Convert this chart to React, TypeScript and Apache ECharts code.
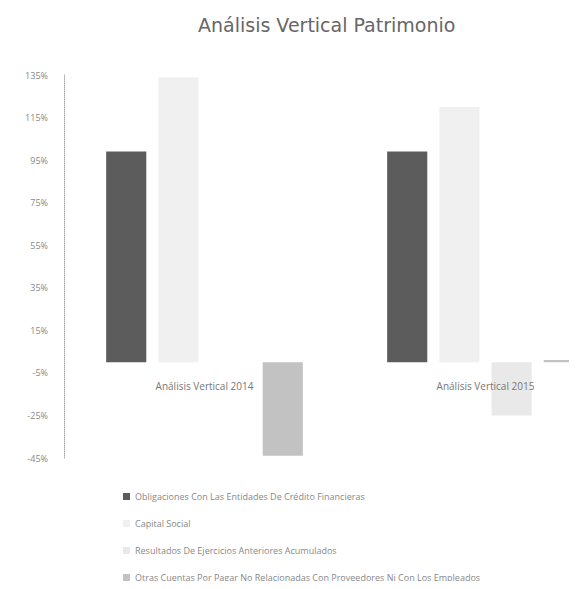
import React, { useEffect, useRef } from "react";
import * as echarts from "echarts";

const categories = ["Análisis Vertical 2014", "Análisis Vertical 2015"];
const seriesNames = [
  "Obligaciones Con Las Entidades De Crédito Financieras",
  "Capital Social",
  "Resultados De Ejercicios Anteriores Acumulados",
  "Otras Cuentas Por Pagar No Relacionadas Con Proveedores Ni Con Los Empleados",
];
const obligaciones = [99, 99];
const capitalSocial = [134, 120];
const resultadosAnteriores = [0, -25];
const otrasCuentas = [-44, 1];
const seriesColors = ["#5c5c5c", "#f0f0f0", "#e9e9e9", "#c2c2c2"];

export default function App() {
  const ref = useRef<HTMLDivElement>(null);
  useEffect(() => {
    if (!ref.current) return;
    const chart = echarts.init(ref.current, null, { renderer: "svg" });
    const values = [obligaciones, capitalSocial, resultadosAnteriores, otrasCuentas];
    chart.setOption({
      animation: false,
      backgroundColor: "#ffffff",
      title: {
        text: "Análisis Vertical Patrimonio",
        left: 193,
        top: 10,
        textStyle: { fontFamily: "DejaVu Sans", fontSize: 19, fontWeight: "normal", color: "#666" },
      },
      grid: { left: 64, top: 75, width: 562, bottom: 162, containLabel: false },
      legend: {
        orient: "vertical",
        left: 118,
        top: 487,
        itemWidth: 7,
        itemHeight: 7,
        itemGap: 18,
        icon: "rect",
        textStyle: { fontFamily: "Open Sans", fontSize: 9, color: "#888" },
        data: seriesNames,
      },
      xAxis: {
        type: "category",
        data: categories,
        offset: -93,
        z: 10,
        axisLine: { show: false, onZero: false },
        axisTick: { show: false },
        axisLabel: { fontFamily: "Open Sans", fontSize: 10, color: "#777", margin: 16 },
      },
      yAxis: {
        type: "value",
        min: -45,
        max: 135,
        interval: 20,
        axisLine: { show: true, lineStyle: { color: "#aaa", type: "dotted", width: 1 } },
        axisTick: { show: false },
        splitLine: { show: false },
        axisLabel: {
          fontFamily: "Open Sans",
          fontSize: 9,
          color: "#888",
          margin: 16,
          formatter: (v: number) => `${v}%`,
        },
      },
      series: values.map((d, i) => ({
        name: seriesNames[i],
        type: "bar",
        data: d,
        barGap: "30%",
        barCategoryGap: "30%",
        itemStyle: { color: seriesColors[i] },
      })),
    });
    return () => chart.dispose();
  }, []);
  return (
    <div style={{ width: 577, height: 589, margin: -8, overflow: "hidden", position: "relative" }}>
      <div ref={ref} style={{ width: 660, height: 620 }} />
    </div>
  );
}
